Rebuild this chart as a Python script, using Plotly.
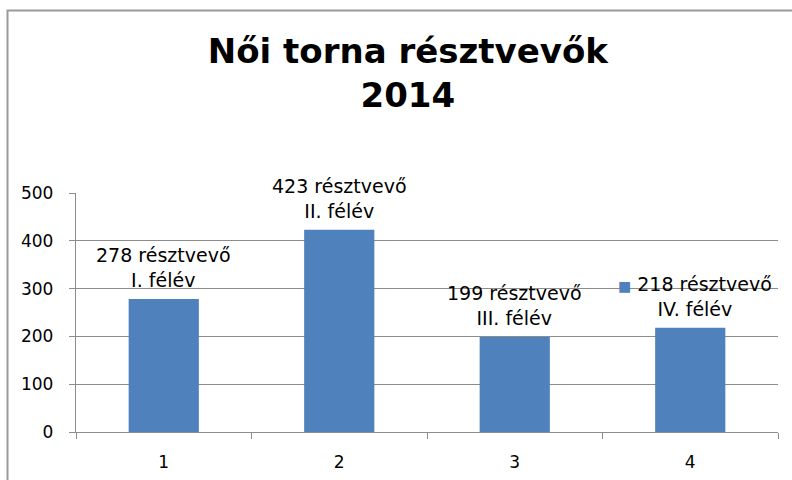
import plotly.graph_objects as go

categories = ["1", "2", "3", "4"]
values = [278, 423, 199, 218]
label_lines1 = ["278 résztvevő", "423 résztvevő", "199 résztvevő", "218 résztvevő"]
label_lines2 = ["I. félév", "II. félév", "III. félév", "IV. félév"]
y_ticks = [0, 100, 200, 300, 400, 500]
title_text = "Női torna résztvevők<br>2014"

BAR = "#4F81BD"
GRID = "#8c8c8c"
FONT = "DejaVu Sans"

fig = go.Figure()
fig.add_trace(go.Bar(
    x=categories, y=values,
    marker=dict(color=BAR, line=dict(width=0)),
    showlegend=False, hoverinfo="skip",
))

annotations = []
for i, (v, l1, l2) in enumerate(zip(values, label_lines1, label_lines2)):
    if i == len(categories) - 1:
        text = f"<span style='color:{BAR};font-size:14px'>■</span> {l1}<br>{l2}"
        xshift = 5
    else:
        text = f"{l1}<br>{l2}"
        xshift = 0
    annotations.append(dict(
        x=i, y=v, xref="x", yref="y", text=text, showarrow=False,
        yanchor="bottom", yshift=6, xshift=xshift, align="center",
        font=dict(family=FONT, size=19, color="black"),
    ))

fig.update_layout(
    width=792, height=480,
    margin=dict(l=76, r=14, t=193, b=48),
    paper_bgcolor="white", plot_bgcolor="white",
    bargap=0.6,
    title=dict(
        text=title_text, x=0.515, xref="container", xanchor="center",
        y=1 - 63 / 480, yref="container", yanchor="top",
        font=dict(family=FONT, size=34, color="black", weight="bold"),
    ),
    annotations=annotations,
    xaxis=dict(
        type="category", range=[-0.5, 3.5], automargin=False,
        showline=True, linecolor=GRID, linewidth=1.3,
        ticks="outside", tickson="boundaries", ticklen=6, tickcolor=GRID, tickwidth=1.3,
        showgrid=False, ticklabelstandoff=14,
        tickfont=dict(family=FONT, size=17, color="black"),
    ),
    yaxis=dict(
        range=[0, 500], tickvals=y_ticks, automargin=False,
        showline=True, linecolor=GRID, linewidth=1.3,
        ticks="outside", ticklen=6, tickcolor=GRID, tickwidth=1.3,
        showgrid=True, gridcolor=GRID, gridwidth=1.3, zeroline=False,
        ticklabelstandoff=12,
        tickfont=dict(family=FONT, size=17, color="black"),
    ),
    shapes=[dict(
        type="rect", xref="paper", yref="paper",
        x0=(7.5 - 76) / 702, x1=1.2, y0=-0.5, y1=(432 - 10.5) / 239,
        line=dict(color="#9a9a9a", width=2), fillcolor="rgba(0,0,0,0)", layer="below",
    )],
)

fig.write_html("out.html", config={"displayModeBar": False},
               post_script="document.body.style.margin='0';")
